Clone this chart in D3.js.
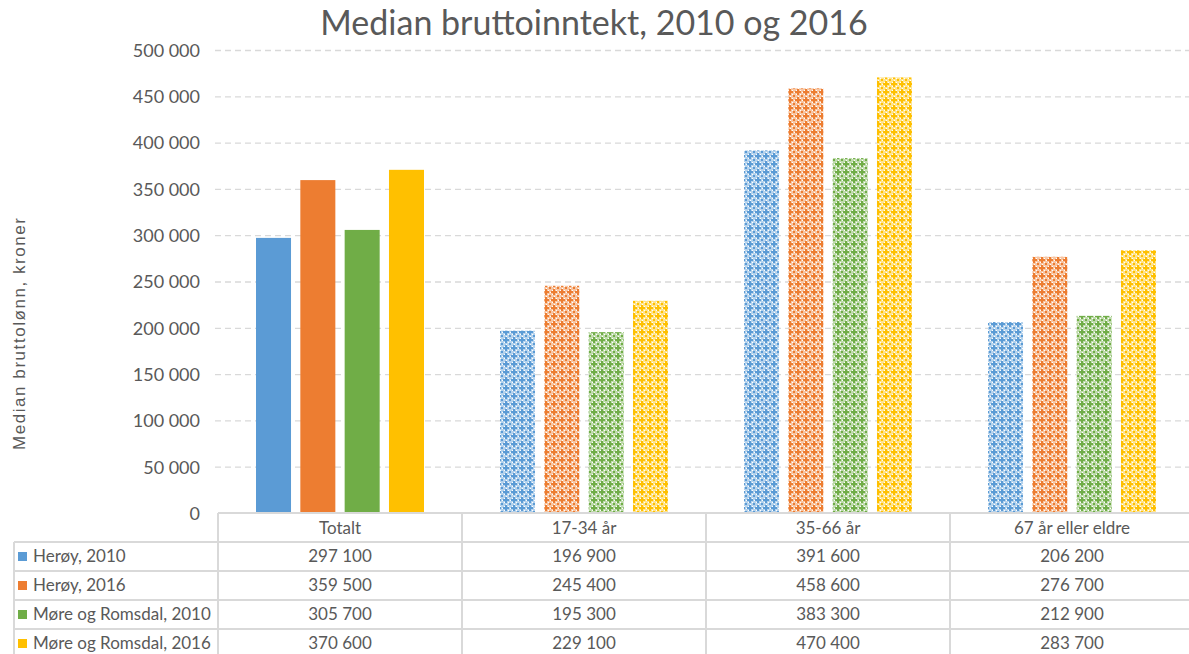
<!DOCTYPE html>
<html><head><meta charset="utf-8">
<script src="https://cdn.jsdelivr.net/npm/d3@7"></script>
<style>body{margin:0;background:#fff}svg{display:block}</style>
</head><body>
<svg id="c" width="1189" height="654"></svg>
<script>
const categories = ["Totalt", "17-34 år", "35-66 år", "67 år eller eldre"];
const seriesNames = ["Herøy, 2010", "Herøy, 2016", "Møre og Romsdal, 2010", "Møre og Romsdal, 2016"];
const heroy2010 = [297100, 196900, 391600, 206200];
const heroy2016 = [359500, 245400, 458600, 276700];
const mr2010 = [305700, 195300, 383300, 212900];
const mr2016 = [370600, 229100, 470400, 283700];
const yTicks = [0, 50000, 100000, 150000, 200000, 250000, 300000, 350000, 400000, 450000, 500000];
const colors = ["#5B9BD5", "#ED7D31", "#70AD47", "#FFC000"];
const title = "Median bruttoinntekt, 2010 og 2016";
const yTitle = "Median bruttolønn, kroner";

const seriesValues = [heroy2010, heroy2016, mr2010, mr2016];
const loc = d3.formatLocale({decimal: ",", thousands: " ", grouping: [3], currency: ["", ""]});
const fmt = loc.format(",");

const svg = d3.select("#c");
const W = 1189;
const font = "Lato, 'Open Sans', sans-serif";
const txt = "#595959";
const gridC = "#d9d9d9";

// patterns
const defs = svg.append("defs");
colors.forEach((c, i) => {
  const light = d3.interpolateRgb(c, "#ffffff")(0.55);
  const p = defs.append("pattern").attr("id", "pat" + i).attr("patternUnits", "userSpaceOnUse")
    .attr("width", 8).attr("height", 8);
  p.append("rect").attr("width", 8).attr("height", 8).attr("fill", light);
  p.append("rect").attr("x", 1).attr("y", 3).attr("width", 6).attr("height", 2).attr("fill", c);
  p.append("rect").attr("x", 3).attr("y", 1).attr("width", 2).attr("height", 6).attr("fill", c);
  [[0,0],[8,0],[0,8],[8,8]].forEach(([cx, cy]) => {
    p.append("rect").attr("x", cx - 1).attr("y", cy - 1).attr("width", 2).attr("height", 2).attr("fill", c);
  });
  [[0,4],[4,0],[2,2],[6,2],[2,6],[6,6]].forEach(([wx, wy]) => {
    p.append("rect").attr("x", wx).attr("y", wy).attr("width", 1).attr("height", 1).attr("fill", "#ffffff");
  });
});

const x0 = d3.scaleBand().domain(categories).range([218, 1194]).padding(0);
const x1 = d3.scaleBand().domain(seriesNames).range([38, 206]).paddingInner(0.21).paddingOuter(0);
const y = d3.scaleLinear().domain([0, 500000]).range([513, 50]);

// gridlines
const yAxis = d3.axisLeft(y).tickValues(yTicks).tickFormat(fmt).tickSize(-(W - 215)).tickPadding(15);
const ga = svg.append("g").attr("transform", "translate(215,0)").call(yAxis);
ga.select(".domain").remove();
ga.selectAll(".tick line").attr("stroke", gridC).attr("stroke-width", 1.3).attr("stroke-dasharray", "6,4")
  .filter(d => d === 0).remove();
ga.selectAll(".tick text").attr("fill", txt).attr("font-family", font).attr("font-size", 18).attr("dy", "0.35em");

// bars
categories.forEach((cat, ci) => {
  const g = svg.append("g").attr("transform", `translate(${x0(cat)},0)`);
  seriesNames.forEach((s, si) => {
    const v = seriesValues[si][ci];
    g.append("rect").attr("x", x1(s)).attr("width", x1.bandwidth())
      .attr("y", y(v)).attr("height", y(0) - y(v))
      .attr("fill", ci === 0 ? colors[si] : `url(#pat${si})`);
  });
});

// title
svg.append("text").attr("x", 594).attr("y", 35).attr("text-anchor", "middle")
  .attr("font-family", font).attr("font-size", 34).attr("fill", txt).text(title);

// y title
svg.append("text").attr("transform", "translate(25,334) rotate(-90)").attr("text-anchor", "middle")
  .attr("font-family", "'Liberation Sans', Arial, sans-serif").attr("font-size", 17)
  .attr("textLength", 232).attr("lengthAdjust", "spacing")
  .attr("fill", txt).text(yTitle);

// data table
const rowTop = 513, headH = 29, rowH = 29;
const tbl = svg.append("g");
const line = (x1_, y1_, x2_, y2_) => tbl.append("line").attr("x1", x1_).attr("y1", y1_).attr("x2", x2_).attr("y2", y2_)
  .attr("stroke", gridC).attr("stroke-width", 2);
line(218, rowTop, 1194, rowTop);
for (let r = 0; r < seriesNames.length; r++) {
  line(14, rowTop + headH + r * rowH, 1194, rowTop + headH + r * rowH);
}
line(14, rowTop + headH, 14, 660);
categories.forEach(cat => line(x0(cat), rowTop, x0(cat), 660));

categories.forEach(cat => {
  tbl.append("text").attr("x", x0(cat) + x0.bandwidth() / 2).attr("y", rowTop + 21)
    .attr("text-anchor", "middle").attr("font-family", font).attr("font-size", 17).attr("fill", txt).text(cat);
});
seriesNames.forEach((s, si) => {
  const yy = rowTop + headH + si * rowH;
  tbl.append("rect").attr("x", 18).attr("y", yy + 10).attr("width", 9).attr("height", 9).attr("fill", colors[si]);
  tbl.append("text").attr("x", 33).attr("y", yy + 20).attr("font-family", font).attr("font-size", 17)
    .attr("fill", txt).text(s);
  categories.forEach((cat, ci) => {
    tbl.append("text").attr("x", x0(cat) + x0.bandwidth() / 2).attr("y", yy + 20)
      .attr("text-anchor", "middle").attr("font-family", font).attr("font-size", 17).attr("fill", txt)
      .text(fmt(seriesValues[si][ci]));
  });
});
</script>
</body></html>
